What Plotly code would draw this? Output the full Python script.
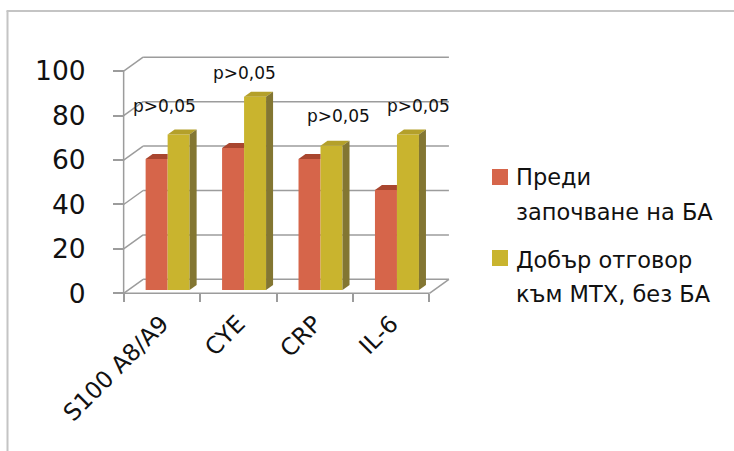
import plotly.graph_objects as go

# ---- data ----
categories = ["S100 A8/A9", "CYE", "CRP", "IL-6"]
series_names = ["Преди<br>започване на БА", "Добър отговор<br>към МТХ, без БА"]
before_ba = [59, 64, 59, 45]
good_mtx = [70, 87, 65, 70]
p_labels = ["p>0,05", "p>0,05", "p>0,05", "p>0,05"]
y_ticks = [0, 20, 40, 60, 80, 100]

# ---- layout constants (pixels / axis units) ----
W, H = 734, 451
M_L, M_R, M_T, M_B = 116, 274, 49, 151
X_RANGE = [-0.6, 3.9]
Y_RANGE = [-3, 110]
PX_X = (W - M_L - M_R) / (X_RANGE[1] - X_RANGE[0])   # px per category
PX_Y = (H - M_T - M_B) / (Y_RANGE[1] - Y_RANGE[0])   # px per value unit

WALL_DX = 19.5 / PX_X     # depth of the 3-D box
WALL_DY = 14.0 / PX_Y
BAR_BASE = 3.3 / PX_Y     # floor level at the bars' depth
BAR_W = 22.0 / PX_X
BAR_OFF = [-0.2124, -0.2124 + BAR_W]
BAR_DX = 7.0 / PX_X       # bar thickness (depth)
BAR_DY = 5.0 / PX_Y

# positions of the p-value labels (category units, value units)
P_LABEL_X = [0.036, 1.082, 2.311, 3.356]
P_LABEL_Y = [84.3, 99.2, 79.8, 84.3]

FRONT = ["#D6654A", "#C9B42E"]
TOP = ["#A9462F", "#B4A02A"]
SIDE = ["#8A3A28", "#837632"]
GRID = "#9c9c9c"
FONT = "DejaVu Sans"


def px_to_paper_x(px):
    return (px - M_L) / (W - M_L - M_R)


def px_to_paper_y(py):
    return (H - M_B - py) / (H - M_T - M_B)


def poly(points):
    return "M " + " L ".join(f"{x},{y}" for x, y in points) + " Z"


fig = go.Figure()

for i, (vals, name) in enumerate(zip([before_ba, good_mtx], series_names)):
    fig.add_trace(go.Bar(
        x=categories, y=vals, base=BAR_BASE, name=name,
        offset=BAR_OFF[i], width=BAR_W,
        marker=dict(color=FRONT[i], line=dict(width=0)),
        hoverinfo="skip", showlegend=False,
    ))

shapes = []
line = dict(color=GRID, width=1.5)

# back wall gridlines and left wall diagonals
for v in y_ticks:
    shapes.append(dict(type="line", xref="x", yref="y", layer="below",
                       x0=-0.5 + WALL_DX, x1=3.5 + WALL_DX,
                       y0=v + WALL_DY, y1=v + WALL_DY, line=line))
    shapes.append(dict(type="line", xref="x", yref="y", layer="below",
                       x0=-0.5, x1=-0.5 + WALL_DX,
                       y0=v, y1=v + WALL_DY, line=line))
# front vertical axis line, floor front edge and right floor edge
shapes.append(dict(type="line", xref="x", yref="y", layer="below",
                   x0=-0.5, x1=-0.5, y0=0, y1=100, line=line))
shapes.append(dict(type="line", xref="x", yref="y", layer="below",
                   x0=-0.5, x1=3.5, y0=0, y1=0, line=line))
shapes.append(dict(type="line", xref="x", yref="y", layer="below",
                   x0=3.5, x1=3.5 + WALL_DX, y0=0, y1=WALL_DY, line=line))

# 3-D tops and sides of the bars
for c in range(len(categories)):
    # first series: top face, its right part hidden behind the taller bar
    xl = c + BAR_OFF[0]
    xr = xl + BAR_W
    t = BAR_BASE + before_ba[c]
    shapes.append(dict(type="path", xref="x", yref="y", layer="above",
                       path=poly([(xl, t), (xr, t), (xr, t + BAR_DY),
                                  (xl + BAR_DX, t + BAR_DY)]),
                       fillcolor=TOP[0], line=dict(width=0)))
    # second series: top and side faces
    xl = c + BAR_OFF[1]
    xr = xl + BAR_W
    t = BAR_BASE + good_mtx[c]
    b = BAR_BASE
    shapes.append(dict(type="path", xref="x", yref="y", layer="above",
                       path=poly([(xl, t), (xr, t), (xr + BAR_DX, t + BAR_DY),
                                  (xl + BAR_DX, t + BAR_DY)]),
                       fillcolor=TOP[1], line=dict(width=0)))
    shapes.append(dict(type="path", xref="x", yref="y", layer="above",
                       path=poly([(xr, b), (xr, t), (xr + BAR_DX, t + BAR_DY),
                                  (xr + BAR_DX, b + BAR_DY)]),
                       fillcolor=SIDE[1], line=dict(width=0)))

# outer frame (left and top edges)
frame = dict(color="#c4c4c4", width=2)
shapes.append(dict(type="line", xref="paper", yref="paper",
                   x0=px_to_paper_x(7.5), x1=px_to_paper_x(7.5),
                   y0=px_to_paper_y(11), y1=px_to_paper_y(452), line=frame))
shapes.append(dict(type="line", xref="paper", yref="paper",
                   x0=px_to_paper_x(6.5), x1=px_to_paper_x(735),
                   y0=px_to_paper_y(11), y1=px_to_paper_y(11), line=frame))

annotations = []
for c, txt in enumerate(p_labels):
    annotations.append(dict(x=P_LABEL_X[c], y=P_LABEL_Y[c], xref="x", yref="y",
                            text=txt, showarrow=False,
                            font=dict(family=FONT, size=17, color="#111111"),
                            xanchor="center", yanchor="middle"))

# legend: colour squares and two-line labels
leg_sq = [177, 258]
leg_lines = [[177, 212], [260, 294]]
for i, name in enumerate(series_names):
    shapes.append(dict(type="rect", xref="paper", yref="paper",
                       x0=px_to_paper_x(492), x1=px_to_paper_x(508),
                       y0=px_to_paper_y(leg_sq[i] - 8), y1=px_to_paper_y(leg_sq[i] + 8),
                       fillcolor=FRONT[i], line=dict(width=0)))
    for part, ly in zip(name.split("<br>"), leg_lines[i]):
        annotations.append(dict(x=px_to_paper_x(514), y=px_to_paper_y(ly),
                                xref="paper", yref="paper", text=part,
                                showarrow=False, xanchor="left", yanchor="middle",
                                font=dict(family=FONT, size=22.5, color="#111111")))

fig.update_layout(
    template="none",
    width=W, height=H,
    margin=dict(l=M_L, r=M_R, t=M_T, b=M_B, autoexpand=False),
    paper_bgcolor="white", plot_bgcolor="rgba(0,0,0,0)",
    showlegend=False,
    shapes=shapes, annotations=annotations,
    xaxis=dict(type="category", range=X_RANGE, anchor="free",
               position=px_to_paper_y(293.3),
               showgrid=False, zeroline=False, showline=False,
               tickson="boundaries", ticks="outside", ticklen=8,
               tickcolor=GRID, tickwidth=1.5, tickangle=-45,
               ticklabelstandoff=11,
               tickfont=dict(family=FONT, size=23.5, color="#111111"),
               automargin=False),
    yaxis=dict(range=Y_RANGE, anchor="free", position=px_to_paper_x(124),
               tickvals=y_ticks, showgrid=False, zeroline=False, showline=False,
               ticks="outside", ticklen=11, tickcolor=GRID, tickwidth=1.5,
               ticklabelstandoff=22,
               tickfont=dict(family=FONT, size=26.5, color="#111111"),
               automargin=False),
)

fig.write_html("out.html")
